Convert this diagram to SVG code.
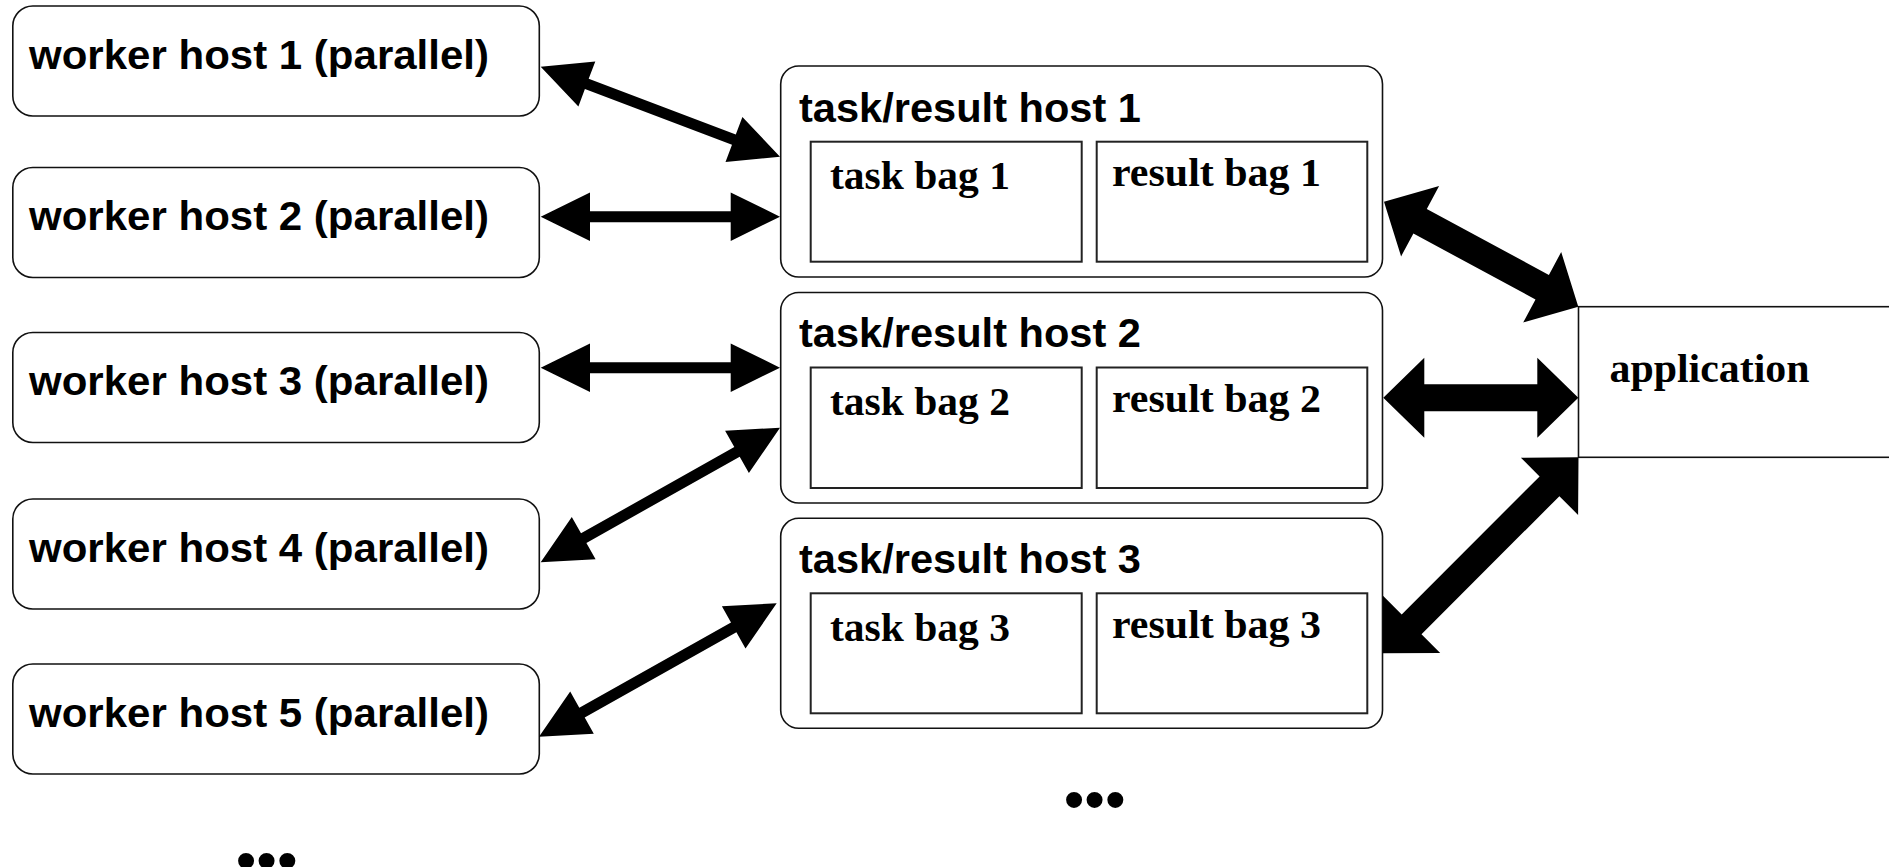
<svg xmlns="http://www.w3.org/2000/svg" width="1889" height="867" viewBox="0 0 1889 867">
<style>
.box{fill:#fff;stroke:#111;stroke-width:1.6}
.bag{fill:#fff;stroke:#222;stroke-width:2}
.sans{font-family:"Liberation Sans",Arial,sans-serif;font-weight:bold;font-size:41px;fill:#000}
.serif{font-family:"Liberation Serif","Times New Roman",serif;font-weight:bold;font-size:41px;fill:#000}
.arr{fill:#000;stroke:none}
.dots{font-family:"Liberation Sans",Arial,sans-serif;font-size:59px;fill:#000}
</style>
<rect width="1889" height="867" fill="#fff"/>

<g id="worker1"><rect class="box" x="12.8" y="6" width="526.5" height="110" rx="20"/><text class="sans" x="29" y="68.5" textLength="460" lengthAdjust="spacingAndGlyphs">worker host 1 (parallel)</text></g>
<g id="worker2"><rect class="box" x="12.8" y="167.5" width="526.5" height="110" rx="20"/><text class="sans" x="29" y="230" textLength="460" lengthAdjust="spacingAndGlyphs">worker host 2 (parallel)</text></g>
<g id="worker3"><rect class="box" x="12.8" y="332.5" width="526.5" height="110" rx="20"/><text class="sans" x="29" y="395" textLength="460" lengthAdjust="spacingAndGlyphs">worker host 3 (parallel)</text></g>
<g id="worker4"><rect class="box" x="12.8" y="499" width="526.5" height="110" rx="20"/><text class="sans" x="29" y="561.5" textLength="460" lengthAdjust="spacingAndGlyphs">worker host 4 (parallel)</text></g>
<g id="worker5"><rect class="box" x="12.8" y="664" width="526.5" height="110" rx="20"/><text class="sans" x="29" y="726.5" textLength="460" lengthAdjust="spacingAndGlyphs">worker host 5 (parallel)</text></g>

<g id="host1">
<rect class="box" x="780.7" y="66" width="601.8" height="211" rx="18"/>
<text class="sans" x="799" y="121.7" textLength="342" lengthAdjust="spacingAndGlyphs">task/result host 1</text>
<rect class="bag" x="810.7" y="141.7" width="271" height="120"/>
<text class="serif" x="830" y="189" textLength="180" lengthAdjust="spacingAndGlyphs">task bag 1</text>
<rect class="bag" x="1096.7" y="141.7" width="270.6" height="120"/>
<text class="serif" x="1112" y="186" textLength="209" lengthAdjust="spacingAndGlyphs">result bag 1</text>
</g>
<g id="host2">
<rect class="box" x="780.7" y="292.5" width="601.8" height="210.5" rx="18"/>
<text class="sans" x="799" y="347" textLength="342" lengthAdjust="spacingAndGlyphs">task/result host 2</text>
<rect class="bag" x="810.7" y="367.5" width="271" height="120.5"/>
<text class="serif" x="830" y="415" textLength="180" lengthAdjust="spacingAndGlyphs">task bag 2</text>
<rect class="bag" x="1096.7" y="367.5" width="270.6" height="120.5"/>
<text class="serif" x="1112" y="412" textLength="209" lengthAdjust="spacingAndGlyphs">result bag 2</text>
</g>
<g id="host3">
<rect class="box" x="780.7" y="518.3" width="601.8" height="210" rx="18"/>
<text class="sans" x="799" y="572.7" textLength="342" lengthAdjust="spacingAndGlyphs">task/result host 3</text>
<rect class="bag" x="810.7" y="593.3" width="271" height="120"/>
<text class="serif" x="830" y="641" textLength="180" lengthAdjust="spacingAndGlyphs">task bag 3</text>
<rect class="bag" x="1096.7" y="593.3" width="270.6" height="120"/>
<text class="serif" x="1112" y="638" textLength="209" lengthAdjust="spacingAndGlyphs">result bag 3</text>
</g>

<g id="application">
<rect class="box" x="1578.5" y="306.7" width="400" height="150.6"/>
<text class="serif" x="1609.5" y="381.7" textLength="200" lengthAdjust="spacingAndGlyphs">application</text>
</g>

<g id="connectors">
<polygon class="arr" points="540.7,66.7 578.4,106.4 584.9,89.1 732.0,144.7 725.5,162.0 780,156.7 742.4,117.0 735.8,134.4 588.7,78.8 595.3,61.4"/>
<polygon class="arr" points="540.7,216.7 590,240.9 590,222.2 730.7,222.2 730.7,240.9 780,216.7 730.7,192.5 730.7,211.2 590,211.2 590,192.5"/>
<polygon class="arr" points="540.7,367.7 590,391.9 590,373.2 730.7,373.2 730.7,391.9 780,367.7 730.7,343.5 730.7,362.2 590,362.2 590,343.5"/>
<polygon class="arr" points="540.7,562.3 595.6,559.2 586.4,542.9 739.7,456.7 748.9,473.0 780,427.7 725.1,430.8 734.3,447.1 581.0,533.3 571.8,517.0"/>
<polygon class="arr" points="539,736.7 593.8,733.7 584.7,717.4 736.4,632.2 745.5,648.5 776.7,603.3 721.9,606.3 731.0,622.6 579.3,707.8 570.2,691.5"/>
<polygon class="arr" points="1384,201.7 1401.1,256.4 1413.4,233.5 1535.5,299.5 1523.2,322.4 1578.3,306.7 1561.2,252.0 1548.9,274.9 1426.8,208.9 1439.1,186.0"/>
<polygon class="arr" points="1383.3,397.7 1424.3,437.7 1424.3,411.2 1537.3,411.2 1537.3,437.7 1578.3,397.7 1537.3,357.7 1537.3,384.2 1424.3,384.2 1424.3,357.7"/>
<polygon class="arr" points="1382.6,653.3 1440.2,652.9 1421.5,634.2 1559.4,496.2 1578.1,514.9 1578.5,457.3 1520.9,457.7 1539.6,476.4 1401.7,614.4 1383.0,595.7"/>
</g>

<text class="dots" x="1063.7" y="820">•••</text>
<text class="dots" x="235.7" y="880.5">•••</text>
</svg>
